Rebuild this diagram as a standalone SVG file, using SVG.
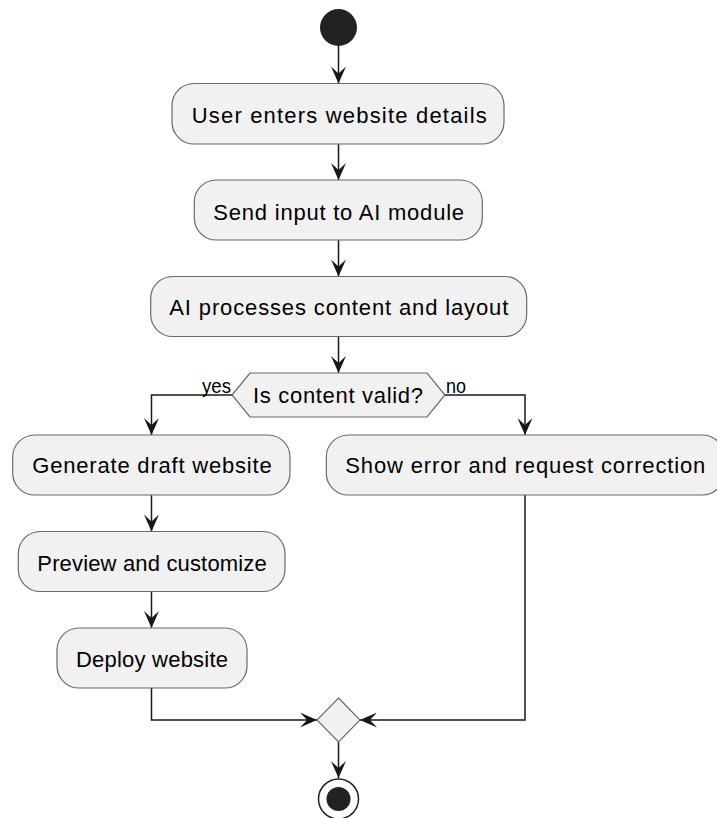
<svg xmlns="http://www.w3.org/2000/svg" width="717" height="818" viewBox="0 0 717 818">
<style>
.box{fill:#F1F1F1;stroke:#6a6a6a;stroke-width:1.2}
.lbl{font-family:"Liberation Sans",Arial,sans-serif;font-size:22px;fill:#000;text-anchor:middle}
.guard{font-family:"Liberation Sans",Arial,sans-serif;font-size:20px;fill:#000}
.edge{fill:none;stroke:#181818;stroke-width:1.5}
</style>
<defs>
<marker id="arr" viewBox="0 0 17 15" refX="17" refY="7.5" markerWidth="17" markerHeight="15" markerUnits="userSpaceOnUse" orient="auto">
<polygon points="0,0 17,7.5 0,15 7,7.5" fill="#181818"/>
</marker>
</defs>
<rect width="717" height="818" fill="#FFFFFF"/>

<g id="connectors">
<path class="edge" d="M338.5,46 V83.5" marker-end="url(#arr)"/>
<path class="edge" d="M338.5,144 V180" marker-end="url(#arr)"/>
<path class="edge" d="M338.5,240 V276.5" marker-end="url(#arr)"/>
<path class="edge" d="M338.5,336.5 V373" marker-end="url(#arr)"/>
<path class="edge" d="M232,395 H151.5 V435" marker-end="url(#arr)"/>
<path class="edge" d="M445,395 H525 V435" marker-end="url(#arr)"/>
<path class="edge" d="M151.5,495 V531.5" marker-end="url(#arr)"/>
<path class="edge" d="M151.5,591.5 V628" marker-end="url(#arr)"/>
<path class="edge" d="M151.5,688 V720 H317" marker-end="url(#arr)"/>
<path class="edge" d="M525,495 V720 H360" marker-end="url(#arr)"/>
<path class="edge" d="M338.5,742 V778" marker-end="url(#arr)"/>
<text class="guard" x="202" y="392.5" textLength="29" lengthAdjust="spacingAndGlyphs">yes</text>
<text class="guard" x="446" y="392.5" textLength="20" lengthAdjust="spacingAndGlyphs">no</text>
</g>

<g id="start">
<circle cx="338.5" cy="27.5" r="18.5" fill="#222222"/>
</g>

<g id="n1">
<rect class="box" x="172" y="83.5" width="332" height="60.5" rx="22" ry="22"/>
<text class="lbl" x="339.2" y="122.5" textLength="295" lengthAdjust="spacing">User enters website details</text>
</g>

<g id="n2">
<rect class="box" x="194.3" y="180" width="288" height="60" rx="22" ry="22"/>
<text class="lbl" x="338.7" y="220" textLength="250.7" lengthAdjust="spacing">Send input to AI module</text>
</g>

<g id="n3">
<rect class="box" x="150.7" y="276.5" width="376" height="60" rx="22" ry="22"/>
<text class="lbl" x="338.8" y="315" textLength="339" lengthAdjust="spacing">AI processes content and layout</text>
</g>

<g id="decision">
<polygon class="box" points="232,395 250,373 427,373 445,395 427,417 250,417"/>
<text class="lbl" x="338" y="403" textLength="170" lengthAdjust="spacing">Is content valid?</text>
</g>

<g id="n4">
<rect class="box" x="12.7" y="435" width="277.3" height="60" rx="22" ry="22"/>
<text class="lbl" x="152" y="473.3" textLength="239.4" lengthAdjust="spacing">Generate draft website</text>
</g>

<g id="n5">
<rect class="box" x="326.3" y="435" width="398" height="60" rx="22" ry="22"/>
<text class="lbl" x="525.3" y="473.3" textLength="360" lengthAdjust="spacing">Show error and request correction</text>
</g>

<g id="n6">
<rect class="box" x="18.3" y="531.5" width="266.7" height="60" rx="22" ry="22"/>
<text class="lbl" x="152" y="570.7" textLength="229.4" lengthAdjust="spacing">Preview and customize</text>
</g>

<g id="n7">
<rect class="box" x="57" y="628" width="190" height="60" rx="22" ry="22"/>
<text class="lbl" x="152" y="666.7" textLength="152" lengthAdjust="spacing">Deploy website</text>
</g>

<g id="merge">
<polygon class="box" points="338.5,698 360,720 338.5,742 317,720"/>
</g>

<g id="end">
<circle cx="338.5" cy="799" r="20" fill="#FFFFFF" stroke="#222222" stroke-width="1.5"/>
<circle cx="338.5" cy="799" r="12" fill="#222222"/>
</g>
</svg>
